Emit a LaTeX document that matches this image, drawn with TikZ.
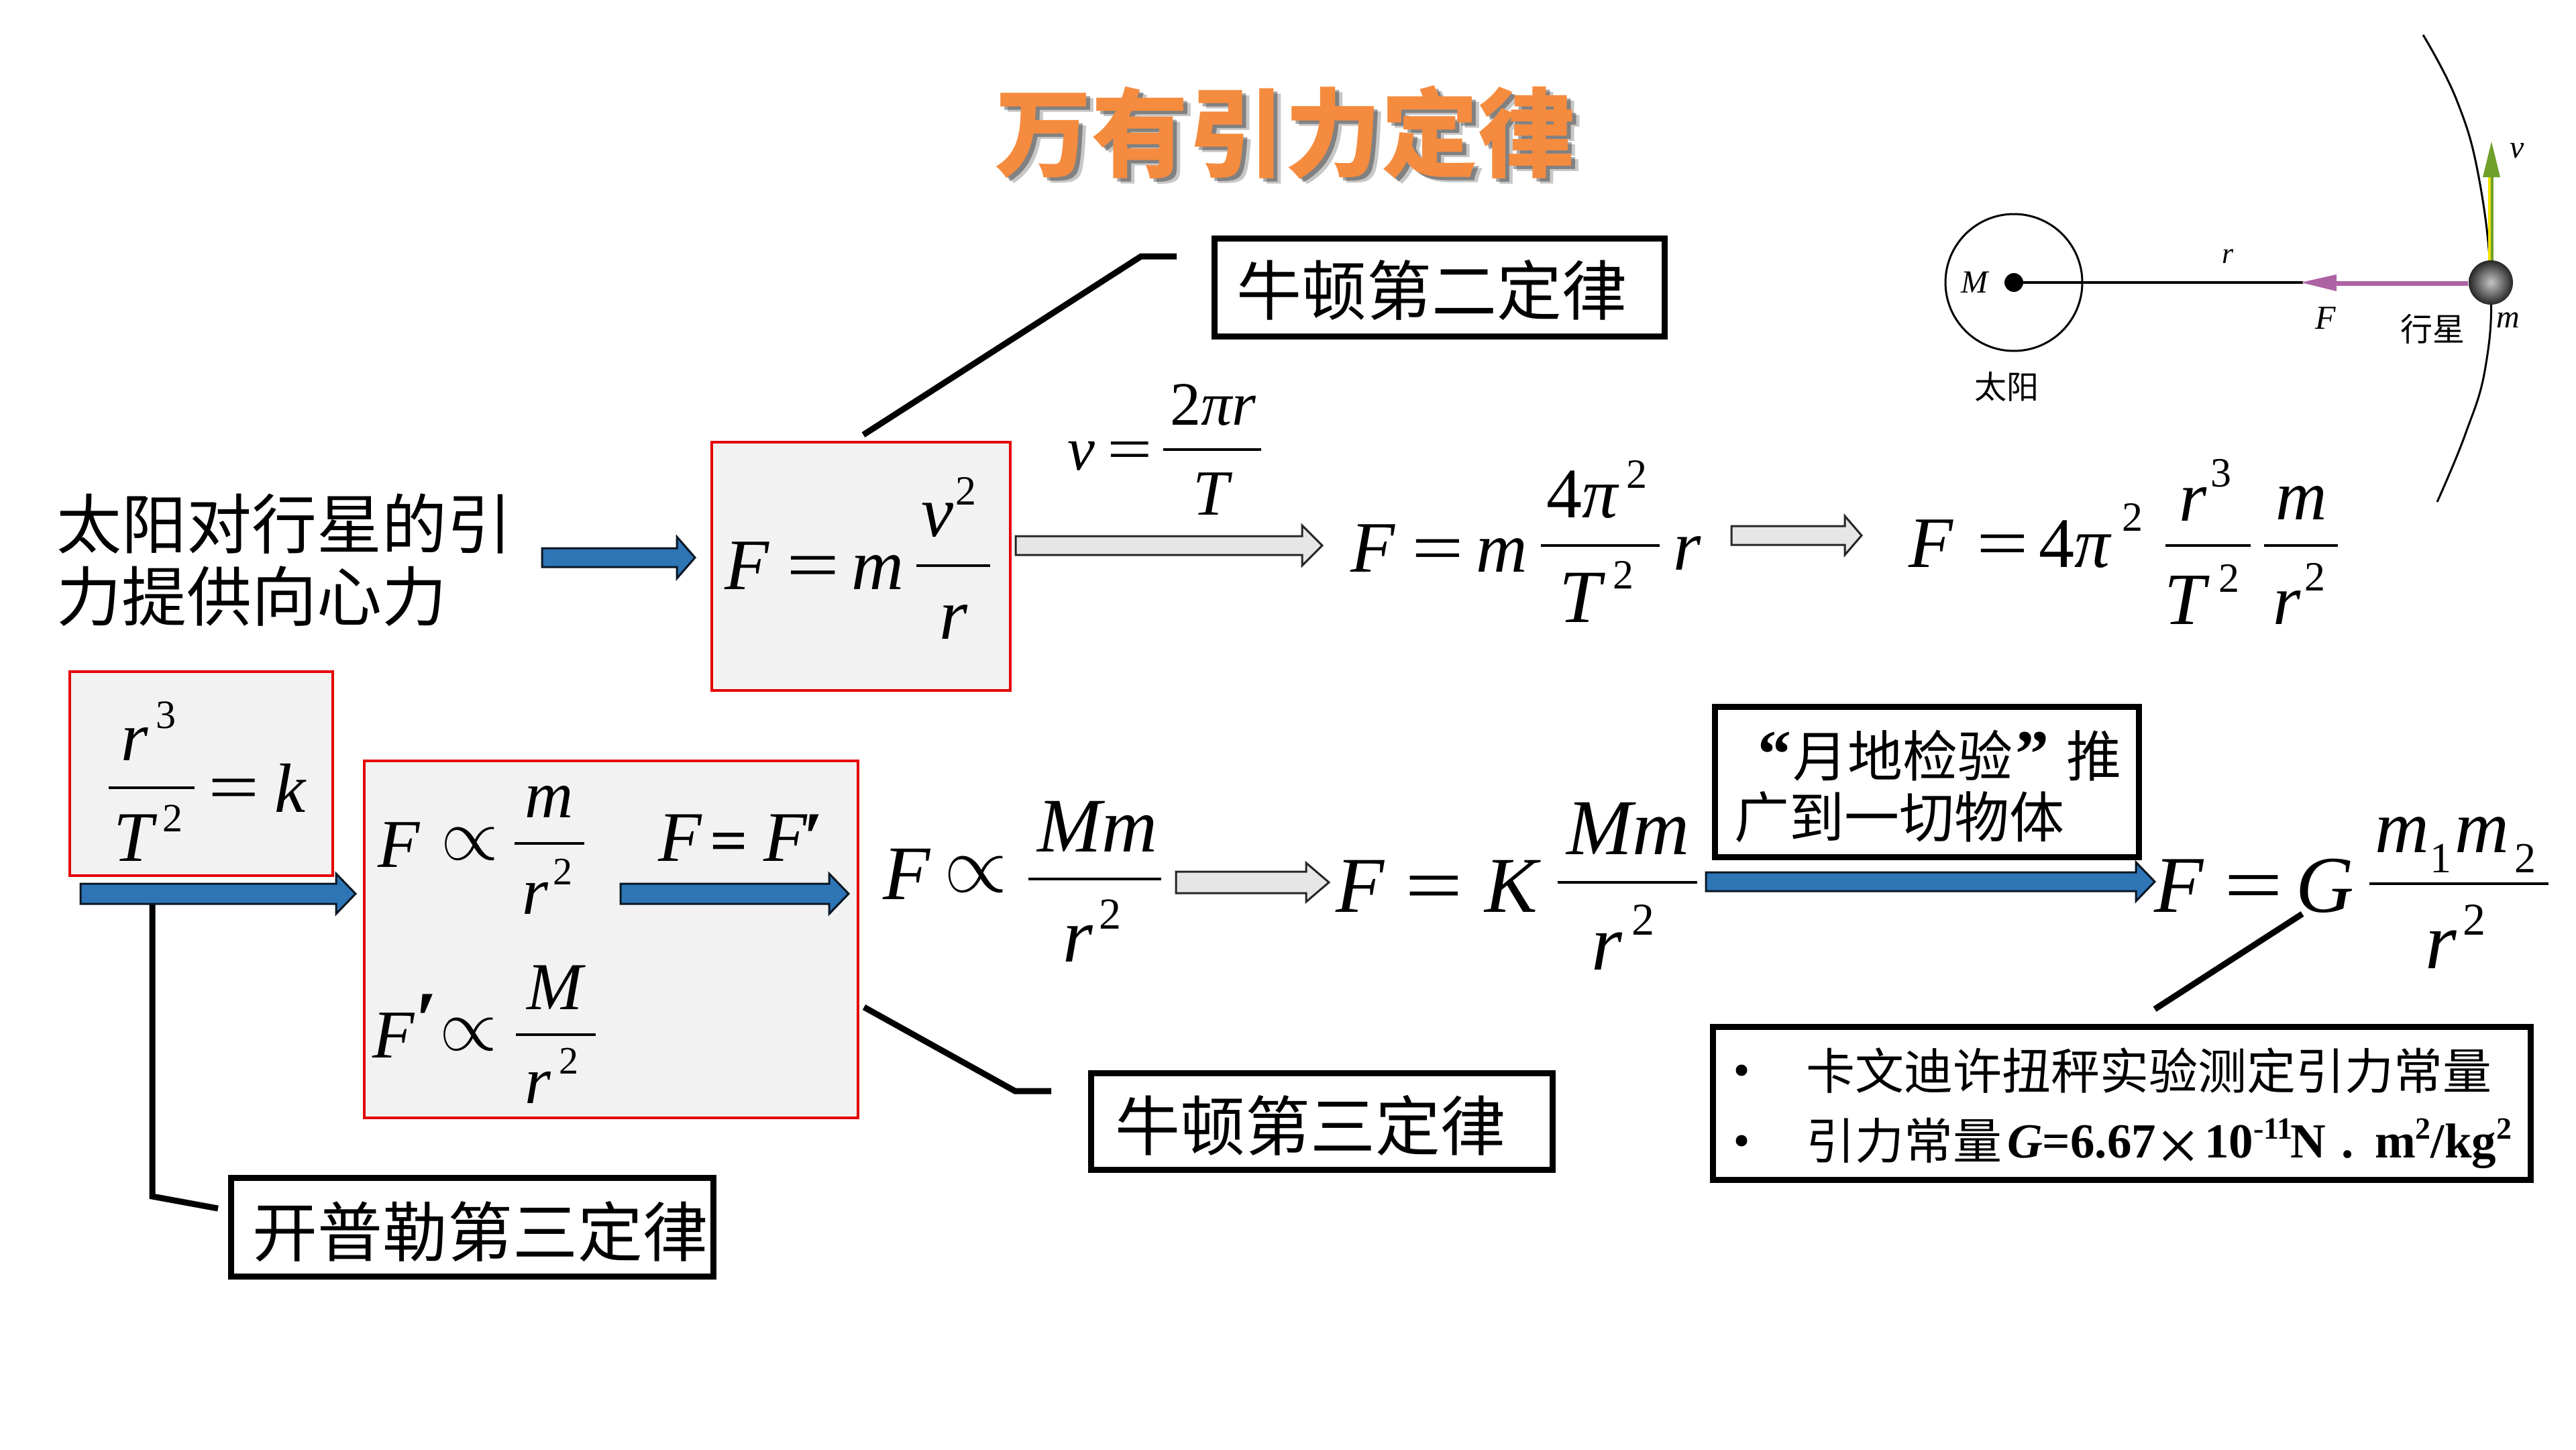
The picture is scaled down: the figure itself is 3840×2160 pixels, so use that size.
\documentclass[tikz,border=0pt]{standalone}
\usepackage{fontspec}
\setmainfont{Liberation Serif}
\newfontfamily\cjk{Noto Sans CJK SC}
\usetikzlibrary{calc}
\definecolor{boxgrey}{HTML}{F2F2F2}
\definecolor{lawblue}{HTML}{2E75B6}
\definecolor{hollow}{HTML}{E7E6E6}
\definecolor{titleorange}{HTML}{F58B3E}
\definecolor{forcemauve}{HTML}{AD62A4}
\definecolor{speedgreen}{HTML}{6FA02A}
\newcommand\setpx[1]{\fontsize{#1}{#1}\selectfont}
% italic and upright formula fragments, placed by centre and baseline
\newcommand\itp[5]{\node[eqpiece] (#1) at (#2,#3) {\setpx{#4}\itshape #5};}
\newcommand\upp[5]{\node[eqpiece] (#1) at (#2,#3) {\setpx{#4}#5};}
\newcommand\eqs[4]{\node[eqpiece,xscale=1.3,transform shape] (#1) at (#2,#3) {\setpx{#4}=};}
\newcommand\prop[4]{\pgfmathsetmacro\propscale{#4*0.11}\node[eqpiece,scale=\propscale] (#1) at (#2,#3) {$\propto$};}
\newcommand\fbar[3]{\draw[fracbar] (#1,#3) -- (#2,#3);}
% block arrow: x start, x tip, x head base, y centre, shaft half height, head half height
\newcommand\blockarrow[7]{\draw[#1] (#2,#5-#6) -- (#4,#5-#6) -- (#4,#5-#7) -- (#3,#5) -- (#4,#5+#7) -- (#4,#5+#6) -- (#2,#5+#6) -- cycle;}
\tikzset{
  eqpiece/.style={anchor=base,inner sep=0pt,outer sep=0pt},
  fracbar/.style={line width=4pt},
  redbox/.style={draw=red!90!black,fill=boxgrey,line width=3.5pt,anchor=north west,inner sep=0pt},
  lawbox/.style={draw=black,fill=white,line width=9pt,anchor=north west,inner sep=0pt},
  lawtext/.style={inner sep=0pt,outer sep=0pt},
  leader/.style={line width=9pt},
  bluearrow/.style={fill=lawblue,draw=black!80!lawblue,line width=3pt},
  greyarrow/.style={fill=hollow,draw=black!85,line width=3pt},
  bulletdot/.style={fill=black,circle,minimum size=17pt,inner sep=0pt},
}
\begin{document}
\begin{tikzpicture}[x=1pt,y=-1pt]
\useasboundingbox (0,0) rectangle (3840,2160);
\fill[white] (0,0) rectangle (3840,2160);

% title with soft shadow
\node[lawtext,text=black,opacity=.22] (titleshadowb) at (1926,205) {\setpx{144}\cjk\bfseries 万有引力定律};
\node[lawtext,text=black,opacity=.35] (titleshadow) at (1921,202) {\setpx{144}\cjk\bfseries 万有引力定律};
\node[lawtext,text=titleorange] (title) at (1915,197) {\setpx{144}\cjk\bfseries 万有引力定律};

% grey formula panels
\node[redbox,minimum width=445pt,minimum height=370pt] (panelA) at (1059,657) {};
\node[redbox,minimum width=392pt,minimum height=304pt] (panelB) at (102,999) {};
\node[redbox,minimum width=736pt,minimum height=532pt] (panelC) at (541,1132) {};

% label boxes
\node[lawbox,minimum width=671pt,minimum height=146pt] (law2) at (1805.5,351) {};
\node[lawtext] (law2t) at (2134,432) {\setpx{97}\cjk 牛顿第二定律};
\node[lawbox,minimum width=688pt,minimum height=144pt] (law3) at (1621.5,1595) {};
\node[lawtext] (law3t) at (1953,1677) {\setpx{97}\cjk 牛顿第三定律};
\node[lawbox,minimum width=719pt,minimum height=147pt] (kepler) at (339.5,1751) {};
\node[lawtext] (keplert) at (716,1835) {\setpx{97}\cjk 开普勒第三定律};
\node[lawbox,minimum width=632pt,minimum height=224pt] (moon) at (2551.5,1049) {};
\node[lawtext,anchor=west] (moon1) at (2620,1126) {\setpx{82}{\setpx{100}\bfseries “}\hspace{2pt}\cjk 月地检验\hspace{4pt}{\rmfamily\setpx{100}\bfseries ”}\hspace{26pt}\cjk 推};
\node[lawtext,anchor=west] (moon2) at (2585,1218) {\setpx{82}\cjk 广到一切物体};
\node[lawbox,minimum width=1219pt,minimum height=228pt] (cavendish) at (2548.5,1526) {};
\node[bulletdot] (bull1) at (2596,1595) {};
\node[bulletdot] (bull2) at (2596,1700) {};
\node[lawtext,anchor=west] (cav1) at (2692,1596) {\setpx{73}\cjk 卡文迪许扭秤实验测定引力常量};
\node[lawtext,anchor=west] (cav2) at (2692,1700) {\setpx{73}\cjk 引力常量};
\node[eqpiece,anchor=base west] (cav3) at (2992,1725) {\setpx{73}\bfseries\textit{G}=6.67};
\node[eqpiece] (cav4) at (3247,1745) {\setpx{112}×};
\node[eqpiece,anchor=base west] (cav5) at (3286,1725) {\setpx{73}\bfseries 10\raisebox{28pt}{\setpx{46}-11}};
\node[eqpiece,anchor=base west] (cav6) at (3414,1725) {\setpx{73}\bfseries N};
\node[eqpiece] (cav7) at (3500,1725) {\setpx{73}\bfseries .};
\node[eqpiece,anchor=base west] (cav8) at (3540,1725) {\setpx{73}\bfseries m\raisebox{28pt}{\setpx{46}2}/kg\raisebox{28pt}{\setpx{46}2}};

% lead-in text
\node[lawtext,anchor=west] (sun1) at (84,781) {\setpx{97}\cjk 太阳对行星的引};
\node[lawtext,anchor=west] (sun2) at (84,889) {\setpx{97}\cjk 力提供向心力};

% leaders from formulas to their law labels
\coordinate (la) at (1287,648);
\coordinate (lb) at (1701,382);
\coordinate (lc) at (1754,382);
\draw[leader] (la) -- (lb) -- (lc);
\coordinate (ld) at (1288,1501);
\coordinate (le) at (1513,1626);
\coordinate (lf) at (1567,1626);
\draw[leader] (ld) -- (le) -- (lf);
\coordinate (lg) at (227,1347);
\coordinate (lh) at (227,1783);
\coordinate (li) at (325,1801);
\draw[leader] (lg) -- (lh) -- (li);
\coordinate (lj) at (3432,1362);
\coordinate (lk) at (3212,1504);
\draw[leader] (lj) -- (lk);

% derivation arrows
\blockarrow{bluearrow}{808}{1036}{1009}{831}{14}{31}
\blockarrow{bluearrow}{120}{530}{501}{1332}{15}{30}
\blockarrow{bluearrow}{925}{1265}{1236}{1332}{15}{30}
\blockarrow{bluearrow}{2543}{3212}{3184}{1314}{14}{29}
\blockarrow{greyarrow}{1514}{1971}{1941}{813}{14}{30}
\blockarrow{greyarrow}{2581}{2775}{2750}{798}{14}{29}
\blockarrow{greyarrow}{1753}{1981}{1947}{1315}{16}{29}

% F = m v^2 / r
\itp{a1}{1113}{878}{108}{F}
\eqs{a2}{1212}{878}{108}
\itp{a3}{1308}{878}{108}{m}
\fbar{1366}{1476}{843}
\itp{a4}{1397}{799}{108}{v}
\upp{a5}{1440}{752}{62}{2}
\itp{a6}{1421}{952}{108}{r}

% v = 2 pi r / T
\itp{b1}{1612}{700}{92}{v}
\eqs{b2}{1684}{700}{92}
\fbar{1734}{1880}{670}
\node[eqpiece] (b3) at (1808,633) {\setpx{92}2\itshape πr};
\itp{b4}{1805}{767}{96}{T}

% F = m 4 pi^2 / T^2 r
\itp{c1}{2046}{852}{108}{F}
\eqs{c2}{2143}{852}{106}
\itp{c3}{2239}{852}{106}{m}
\fbar{2297}{2474}{813}
\node[eqpiece] (c4) at (2359,771) {\setpx{106}4\itshape π};
\upp{c5}{2440}{727}{62}{2}
\itp{c6}{2356}{927}{112}{T}
\upp{c7}{2420}{877}{62}{2}
\itp{c8}{2515}{849}{106}{r}

% F = 4 pi^2 r^3/T^2 m/r^2
\itp{d1}{2878}{845}{108}{F}
\eqs{d2}{2985}{845}{106}
\node[eqpiece] (d3) at (3093,845) {\setpx{106}4\itshape π};
\upp{d4}{3179}{791}{62}{2}
\fbar{3228}{3355}{813}
\itp{d5}{3269}{776}{106}{r}
\upp{d6}{3311}{725}{62}{3}
\itp{d7}{3257}{930}{110}{T}
\upp{d8}{3323}{882}{62}{2}
\fbar{3375}{3485}{813}
\itp{d9}{3431}{774}{106}{m}
\itp{d10}{3409}{930}{106}{r}
\upp{d11}{3451}{880}{62}{2}

% r^3/T^2 = k
\itp{e1}{201}{1133}{104}{r}
\upp{e2}{247}{1085}{60}{3}
\fbar{162}{290}{1174}
\itp{e3}{199}{1283}{106}{T}
\upp{e4}{257}{1239}{60}{2}
\eqs{e5}{349}{1208}{104}
\itp{e6}{433}{1210}{104}{k}

% proportionalities in the central panel
\itp{f1}{595}{1292}{102}{F}
\prop{f2}{700}{1281}{100}
\fbar{767}{871}{1257}
\itp{f3}{819}{1218}{100}{m}
\itp{f4}{798}{1362}{100}{r}
\upp{f5}{839}{1318}{58}{2}
\itp{f6}{587}{1576}{102}{F}
\node[eqpiece] (f7) at (634,1560) {\setpx{120}\bfseries\itshape ′};
\prop{f8}{698}{1565}{100}
\fbar{769}{888}{1542}
\itp{f9}{827}{1504}{100}{M}
\itp{f10}{802}{1644}{100}{r}
\upp{f11}{848}{1600}{58}{2}
\itp{g1}{1014}{1283}{106}{F}
\node[eqpiece,xscale=1.1,transform shape] (g2) at (1087,1283) {\setpx{90}\bfseries =};
\itp{g3}{1171}{1283}{106}{F}
\node[eqpiece] (g4) at (1211,1283) {\setpx{106}\bfseries\itshape ′};

% F prop Mm/r^2
\itp{h1}{1352}{1340}{115}{F}
\prop{h2}{1455}{1329}{110}
\fbar{1533}{1731}{1310}
\itp{h3}{1636}{1269}{115}{Mm}
\itp{h4}{1607}{1433}{115}{r}
\upp{h5}{1655}{1384}{66}{2}

% F = K Mm/r^2
\itp{i1}{2028}{1359}{118}{F}
\eqs{i2}{2138}{1359}{118}
\itp{i3}{2253}{1359}{118}{K}
\fbar{2322}{2530}{1315}
\itp{i4}{2427}{1273}{118}{Mm}
\itp{i5}{2395}{1445}{118}{r}
\upp{i6}{2449}{1393}{68}{2}

% F = G m1 m2 / r^2
\itp{j1}{3248}{1359}{120}{F}
\eqs{j2}{3359}{1359}{120}
\itp{j3}{3466}{1359}{120}{G}
\fbar{3532}{3799}{1317}
\itp{j4}{3581}{1270}{112}{m}
\upp{j5}{3638}{1300}{64}{1}
\itp{j6}{3700}{1270}{112}{m}
\upp{j7}{3764}{1300}{64}{2}
\itp{j8}{3639}{1443}{120}{r}
\upp{j9}{3688}{1393}{68}{2}

% sun and planet sketch
\draw[line width=3pt] (3002,421) circle [radius=102pt];
\node[fill=black,circle,minimum size=28pt,inner sep=0pt] (sundot) at (3002,421) {};
\draw[line width=3.5pt] (3002,421) -- (3433,421);
\draw[line width=3pt] plot[smooth,tension=.7] coordinates {(3612,52) (3662,149) (3695,264) (3713,421) (3705,547) (3675,647) (3633,748)};
\draw[line width=4pt,draw=yellow!85!olive] (3711,388) -- (3711,255);
\draw[line width=4pt,draw=speedgreen] (3715,388) -- (3715,255);
\fill[speedgreen] (3714,211) -- (3727,264) -- (3701,264) -- cycle;
\draw[line width=7pt,draw=forcemauve] (3679,422) -- (3480,422);
\fill[forcemauve] (3430,421) -- (3483,409) -- (3483,434) -- cycle;
\shade[inner color=gray!45,outer color=black!85] (3713,421) circle [radius=33pt];
\itp{m1}{2943}{436}{48}{M}
\itp{m2}{3321}{392}{44}{r}
\itp{m3}{3467}{490}{50}{F}
\itp{m4}{3739}{488}{48}{m}
\itp{m5}{3752}{235}{48}{v}
\node[lawtext] (planetlabel) at (3626,490) {\setpx{48}\cjk 行星};
\node[lawtext] (sunlabel) at (2991,576) {\setpx{48}\cjk 太阳};
\end{tikzpicture}
\end{document}
